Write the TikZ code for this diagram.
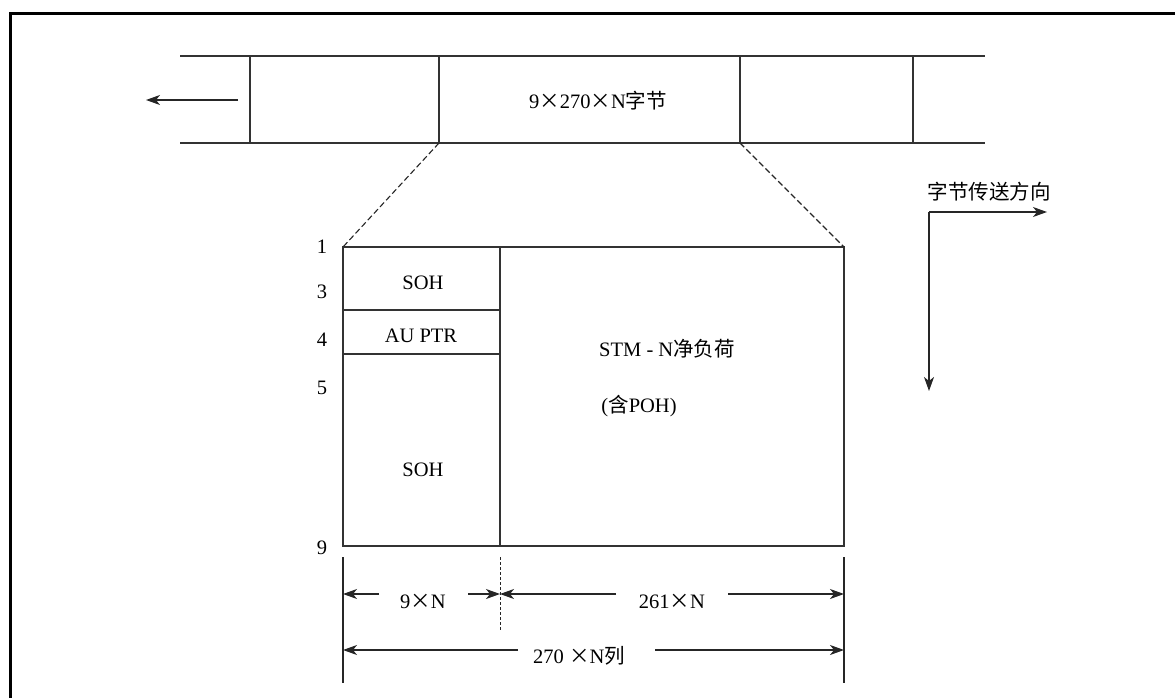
\documentclass[tikz,border=0pt]{standalone}
\usepackage{fontspec}
\setmainfont{Liberation Serif}
\newfontfamily\cjk{Noto Sans CJK SC}
\usetikzlibrary{arrows.meta}
\begin{document}
\begin{tikzpicture}[x=1pt,y=-1pt,
  ln/.style={draw=black!80,line width=1.3pt},
  dim/.style={draw=black!85,line width=1.3pt},
  tip/.style={-{Stealth[length=14pt,width=10pt,inset=4pt]}},
  lbl/.style={font=\fontsize{20.5}{24}\selectfont,inner sep=0pt},
  dsh/.style={draw=black!85,line width=1.1pt,dash pattern=on 6pt off 3pt}]
\useasboundingbox (0,0) rectangle (1175,698);
% frame
\draw[line width=3pt] (10,698) -- (10,14) -- (1175,14);
% top strip
\coordinate (s1) at (180,56); \coordinate (s2) at (985,56);
\coordinate (s3) at (180,143); \coordinate (s4) at (985,143);
\draw[ln] (s1) -- (s2); \draw[ln] (s3) -- (s4);
\foreach \x/\n in {250/a,439/b,740/c,913/d}{
  \coordinate (t\n) at (\x,56); \coordinate (b\n) at (\x,143);
  \draw[ln] (t\n) -- (b\n);}
\node[lbl] (strip) at (598,101) {9{\cjk ×}270{\cjk ×}N{\cjk 字节}};
\coordinate (la) at (238,100); \coordinate (lb) at (146,100);
\draw[dim,tip] (la) -- (lb);
% main box
\coordinate (m1) at (343,247); \coordinate (m2) at (844,247);
\coordinate (m3) at (844,546); \coordinate (m4) at (343,546);
\draw[ln] (m1) -- (m2) -- (m3) -- (m4) -- cycle;
\coordinate (d1) at (500,247); \coordinate (d2) at (500,546);
\draw[ln] (d1) -- (d2);
\coordinate (h1a) at (343,310); \coordinate (h1b) at (500,310);
\coordinate (h2a) at (343,354); \coordinate (h2b) at (500,354);
\draw[ln] (h1a) -- (h1b); \draw[ln] (h2a) -- (h2b);
\draw[dsh] (bb) -- (m1);
\draw[dsh] (bc) -- (m2);
\node[lbl] (soh1) at (423,283) {SOH};
\node[lbl] (aup) at (421,336) {AU PTR};
\node[lbl] (soh2) at (423,470) {SOH};
\node[lbl] (stm) at (667,349) {STM - N{\cjk 净负荷}};
\node[lbl] (poh) at (639,406) {({\cjk 含}POH)};
\node[lbl] (r1) at (322,247) {1};
\node[lbl] (r3) at (322,292) {3};
\node[lbl] (r4) at (322,340) {4};
\node[lbl] (r5) at (322,388) {5};
\node[lbl] (r9) at (322,548) {9};
% direction arrows
\coordinate (o) at (929,212); \coordinate (ox) at (1047,212); \coordinate (oy) at (929,391);
\draw[dim,tip] (o) -- (ox);
\draw[dim,tip] (o) -- (oy);
\node[lbl] (dir) at (989,192) {\cjk 字节传送方向};
% dimension lines
\coordinate (v1a) at (343,557); \coordinate (v1b) at (343,683);
\coordinate (v2a) at (844,557); \coordinate (v2b) at (844,683);
\coordinate (v3a) at (500,557); \coordinate (v3b) at (500,630);
\draw[dim] (v1a) -- (v1b); \draw[dim] (v2a) -- (v2b);
\draw[draw=black!85,line width=0.8pt,dash pattern=on 3pt off 2pt] (v3a) -- (v3b);
\node[lbl] (n9) at (423,601) {9{\cjk ×}N};
\coordinate (a1) at (379,594); \coordinate (a1t) at (343,594);
\coordinate (a2) at (468,594); \coordinate (a2t) at (500,594);
\draw[dim,tip] (a1) -- (a1t); \draw[dim,tip] (a2) -- (a2t);
\node[lbl] (n261) at (672,601) {261{\cjk ×}N};
\coordinate (a3) at (616,594); \coordinate (a3t) at (500,594);
\coordinate (a4) at (728,594); \coordinate (a4t) at (844,594);
\draw[dim,tip] (a3) -- (a3t); \draw[dim,tip] (a4) -- (a4t);
\node[lbl] (n270) at (579,656) {270 {\cjk ×}N{\cjk 列}};
\coordinate (a5) at (518,650); \coordinate (a5t) at (343,650);
\coordinate (a6) at (655,650); \coordinate (a6t) at (844,650);
\draw[dim,tip] (a5) -- (a5t); \draw[dim,tip] (a6) -- (a6t);
\end{tikzpicture}
\end{document}
